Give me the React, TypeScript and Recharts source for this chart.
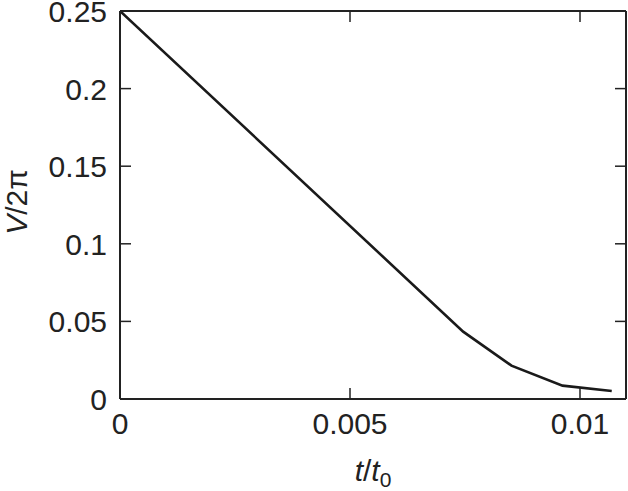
import React from "react";
import { LineChart, Line, XAxis, YAxis } from "recharts";

const tValues = [0, 0.00746, 0.00851, 0.00962, 0.01069];
const vValues = [0.25, 0.0434, 0.0215, 0.0086, 0.0052];
const xTicks = [0, 0.005, 0.01];
const xTickLabels = ["0", "0.005", "0.01"];
const yTicks = [0, 0.05, 0.1, 0.15, 0.2, 0.25];
const yTickLabels = ["0", "0.05", "0.1", "0.15", "0.2", "0.25"];

const data = tValues.map((t, i) => ({ t, v: vValues[i] }));

const FONT = "'Liberation Sans', Arial, Helvetica, sans-serif";
const INK = "#222";
const TICK_LEN = 11;
const FS = 30;

const BottomTick = (props: any) => {
  const { x, y, payload } = props;
  const idx = xTicks.indexOf(payload.value);
  const label = idx >= 0 ? xTickLabels[idx] : String(payload.value);
  return (
    <g>
      {payload.value !== 0 && (
        <line x1={x} y1={y} x2={x} y2={y - TICK_LEN} stroke={INK} strokeWidth={1.5} />
      )}
      <text x={x} y={y + 35} textAnchor="middle" fontFamily={FONT} fontSize={FS} fill={INK}>
        {label}
      </text>
    </g>
  );
};

const TopTick = (props: any) => {
  const { x, y, payload } = props;
  if (payload.value === 0) return <g />;
  return <line x1={x} y1={y} x2={x} y2={y + TICK_LEN} stroke={INK} strokeWidth={1.5} />;
};

const LeftTick = (props: any) => {
  const { x, y, payload } = props;
  const idx = yTicks.indexOf(payload.value);
  const label = idx >= 0 ? yTickLabels[idx] : String(payload.value);
  const edge = payload.value === 0 || payload.value === 0.25;
  return (
    <g>
      {!edge && <line x1={x} y1={y} x2={x + TICK_LEN} y2={y} stroke={INK} strokeWidth={1.5} />}
      <text x={x - 13} y={y + 11} textAnchor="end" fontFamily={FONT} fontSize={FS} fill={INK}>
        {label}
      </text>
    </g>
  );
};

const RightTick = (props: any) => {
  const { x, y, payload } = props;
  const edge = payload.value === 0 || payload.value === 0.25;
  if (edge) return <g />;
  return <line x1={x} y1={y} x2={x - TICK_LEN} y2={y} stroke={INK} strokeWidth={1.5} />;
};

const XLabel = (props: any) => {
  const vb = props.viewBox || {};
  const cx = (vb.x || 0) + (vb.width || 0) / 2;
  const y = (vb.y || 0) + 82;
  return (
    <text x={cx} y={y} textAnchor="middle" fontFamily={FONT} fontSize={FS} fill={INK}>
      <tspan fontStyle="italic">t</tspan>
      <tspan>/</tspan>
      <tspan fontStyle="italic">t</tspan>
      <tspan fontSize={21} dy={6}>0</tspan>
    </text>
  );
};

const YLabel = (props: any) => {
  const vb = props.viewBox || {};
  const cy = (vb.y || 0) + (vb.height || 0) / 2 - 3;
  const bx = 27;
  return (
    <text
      x={bx}
      y={cy}
      textAnchor="middle"
      transform={`rotate(-90, ${bx}, ${cy})`}
      fontFamily={FONT}
      fontSize={FS}
      fill={INK}
    >
      <tspan fontStyle="italic">V</tspan>
      <tspan>/2π</tspan>
    </text>
  );
};

export default function App() {
  return (
    <div style={{ position: "absolute", left: 0, top: 0, width: 628, height: 491, background: "#fff" }}>
      <LineChart width={628} height={491} data={data} margin={{ top: 10, right: 1, left: 0, bottom: 0 }}>
        <XAxis
          xAxisId="bottom"
          dataKey="t"
          type="number"
          domain={[0, 0.011]}
          ticks={xTicks}
          height={92}
          tickSize={0}
          tickMargin={0}
          tick={<BottomTick />}
          axisLine={{ stroke: INK, strokeWidth: 2 }}
          tickLine={false}
          label={<XLabel />}
          allowDataOverflow
        />
        <XAxis
          xAxisId="top"
          orientation="top"
          dataKey="t"
          type="number"
          domain={[0, 0.011]}
          ticks={xTicks}
          height={1}
          tickSize={0}
          tickMargin={0}
          tick={<TopTick />}
          axisLine={{ stroke: INK, strokeWidth: 2 }}
          tickLine={false}
          allowDataOverflow
        />
        <YAxis
          yAxisId="left"
          type="number"
          domain={[0, 0.25]}
          ticks={yTicks}
          width={120}
          tickSize={0}
          tickMargin={0}
          tick={<LeftTick />}
          axisLine={{ stroke: INK, strokeWidth: 2 }}
          tickLine={false}
          label={<YLabel />}
          allowDataOverflow
        />
        <YAxis
          yAxisId="right"
          orientation="right"
          type="number"
          domain={[0, 0.25]}
          ticks={yTicks}
          width={1}
          tickSize={0}
          tickMargin={0}
          tick={<RightTick />}
          axisLine={{ stroke: INK, strokeWidth: 2 }}
          tickLine={false}
          allowDataOverflow
        />
        <Line
          xAxisId="bottom"
          yAxisId="left"
          type="linear"
          dataKey="v"
          stroke="#1a1a1a"
          strokeWidth={2.6}
          dot={false}
          isAnimationActive={false}
        />
      </LineChart>
    </div>
  );
}
